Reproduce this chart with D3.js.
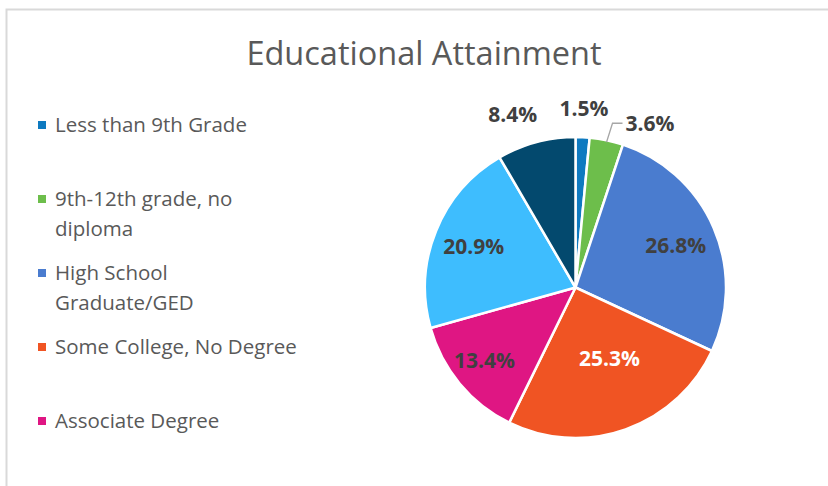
<!doctype html>
<html lang="en">
<head>
<meta charset="utf-8">
<title>Educational Attainment</title>
<script src="https://cdn.jsdelivr.net/npm/d3@7"></script>
<style>
  body { margin: 0; background: #fff; }
  svg { display: block; font-family: "Open Sans", "Noto Sans", sans-serif; }
</style>
</head>
<body>
<script>
// data
var categories = ["Less than 9th Grade", "9th-12th grade, no diploma", "High School Graduate/GED",
                  "Some College, No Degree", "Associate Degree", "Bachelor's Degree",
                  "Graduate or Professional Degree"];
var shares = [1.5, 3.6, 26.8, 25.3, 13.4, 20.9, 8.4];
// legend text as Excel wrapped it
var legendLines = [["Less than 9th Grade"], ["9th-12th grade, no", "diploma"], ["High School", "Graduate/GED"],
                   ["Some College, No Degree"], ["Associate Degree"], ["Bachelor's Degree"],
                   ["Graduate or Professional", "Degree"]];
var colors = ["#0E7AC0", "#6DBE4B", "#4A7CCF", "#F05423", "#DF1683", "#3EBDFE", "#03496E"];

var W = 828, H = 486;
var cx = 575.5, cy = 287.5, R = 150.5;

var svg = d3.select("body").append("svg")
            .attr("width", W)
            .attr("height", H);

// chart frame (only top + left edge visible in the crop)
svg.append("path")
   .attr("d", "M6.5," + H + "V9.5H" + W)
   .attr("fill", "none")
   .attr("stroke", "#d9d9d9")
   .attr("stroke-width", 2);

svg.append("text")
   .attr("x", 424)
   .attr("y", 65)
   .attr("text-anchor", "middle")
   .attr("font-size", 32.5)
   .attr("fill", "#595959")
   .text("Educational Attainment");

// pie
var pie = d3.pie().sort(null).value(d => d.v);
var arcs = pie(shares.map((v, i) => ({v: v, i: i})));
var arc = d3.arc().innerRadius(0).outerRadius(R);

var g = svg.append("g").attr("transform", "translate(" + cx + "," + cy + ")");

g.selectAll("path.slice")
 .data(arcs)
 .enter()
 .append("path")
 .attr("class", "slice")
 .attr("d", arc)
 .attr("fill", d => colors[d.data.i])
 .attr("stroke", "#fff")
 .attr("stroke-width", 2.5)
 .attr("stroke-linejoin", "round");

// label placement: radius (fraction of R) per slice, as Excel best-fit put them
var labelR = [1.19, 1.2, 0.71, 0.5, 0.76, 0.73, 1.19];
var labelShift = [[0, 0], [0, 0], [2, 0], [9, 0], [-3, 0], [0, 0], [-16, 0]];
var pos = function(d) {
    var a = (d.startAngle + d.endAngle) / 2;
    var r = R * labelR[d.data.i];
    return [Math.sin(a) * r + labelShift[d.data.i][0], -Math.cos(a) * r + labelShift[d.data.i][1]];
};

// leader line for the small green slice
var green = arcs[1];
var ga = (green.startAngle + green.endAngle) / 2;
var p0 = [Math.sin(ga) * R, -Math.cos(ga) * R];
g.append("path")
 .attr("d", "M" + p0[0] + "," + (p0[1] + 2) + "L" + (p0[0] + 6) + "," + (p0[1] - 17) + "h10")
 .attr("fill", "none")
 .attr("stroke", "#a6a6a6")
 .attr("stroke-width", 1.3);

g.selectAll("text.lbl")
 .data(arcs)
 .enter()
 .append("text")
 .attr("class", "lbl")
 .attr("x", d => d.data.i == 1 ? p0[0] + 19 : pos(d)[0])
 .attr("y", d => d.data.i == 1 ? p0[1] - 17 : pos(d)[1])
 .attr("dy", "0.36em")
 .attr("text-anchor", d => d.data.i == 1 ? "start" : "middle")
 .attr("font-size", 21)
 .attr("font-weight", "bold")
 .attr("fill", d => d.data.i == 3 ? "#ffffff" : "#404040")
 .text(d => d3.format(".1f")(d.data.v) + "%");

// legend (Excel clips the entries that do not fit)
var legY0 = 125, legStep = 74, lineH = 29.5;
var leg = svg.selectAll("g.leg")
             .data(categories.map((c, i) => i).filter(i => legY0 + i * legStep < H - 20))
             .enter()
             .append("g")
             .attr("class", "leg")
             .attr("transform", i => "translate(0," + (legY0 + i * legStep) + ")");

leg.append("rect")
   .attr("x", 38)
   .attr("y", -4)
   .attr("width", 8)
   .attr("height", 8)
   .attr("fill", i => colors[i]);

leg.each(function(i) {
    var t = d3.select(this).append("text")
              .attr("font-size", 20.5)
              .attr("fill", "#595959");
    legendLines[i].forEach((l, k) => {
        t.append("tspan")
         .attr("x", 55)
         .attr("y", k * lineH)
         .attr("dy", "0.35em")
         .text(l);
    });
});
</script>
</body>
</html>
